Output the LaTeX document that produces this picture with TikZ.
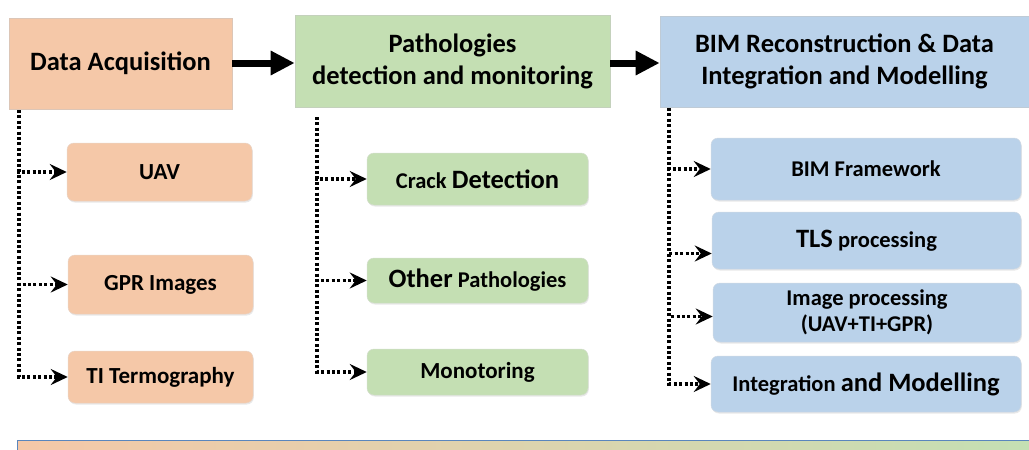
\documentclass[tikz,border=0pt]{standalone}
\usepackage{fontspec}
\setmainfont{Carlito}
\usetikzlibrary{arrows.meta,shadows}
\definecolor{peach}{HTML}{F5C8A8}
\definecolor{leaf}{HTML}{C4DFB3}
\definecolor{sky}{HTML}{BAD2EA}
\definecolor{barline}{HTML}{5A86BD}
\tikzset{
  hdr/.style={draw=#1!80!black!60, line width=0.6pt, fill=#1, align=center, inner sep=0pt,
    font=\bfseries\fontsize{26.5}{32}\selectfont},
  sub/.style={draw=#1!85!black!50, line width=0.5pt, fill=#1, rounded corners=7pt, align=center, inner sep=0pt,
    drop shadow={opacity=0.18, shadow xshift=0.8pt, shadow yshift=-1.5pt},
    font=\bfseries\fontsize{23}{26}\selectfont},
  dotbranch/.style={line width=3.6pt, dash pattern=on 3pt off 2.4pt,
    -{Stealth[length=17pt,width=16pt,inset=6pt]}},
  bigarrow/.style={line width=7pt, -{Triangle[length=24pt,width=23pt]}},
}
\newcommand{\Sm}{\fontsize{22.5}{26}\selectfont}
\newcommand{\Lg}{\fontsize{26.5}{30}\selectfont}
\begin{document}
\begin{tikzpicture}[x=1pt,y=-1pt]
\useasboundingbox (0,0) rectangle (1029,450);
% headers
\node[hdr=peach, minimum width=223pt, minimum height=91pt] (da) at (120.5,63.5) {Data Acquisition};
\node[hdr=leaf, minimum width=315pt, minimum height=92pt] (pd) at (452.5,61) {Pathologies\\detection and monitoring};
\node[hdr=sky, minimum width=369pt, minimum height=91pt] (bim) at (844.5,61.5) {BIM Reconstruction \& Data\\Integration and Modelling};
% big arrows
\draw[bigarrow] (da.east |- 0,63) -- (pd.west |- 0,63);
\draw[bigarrow] (pd.east |- 0,63) -- (bim.west |- 0,63);
% column 1
\node[sub=peach, minimum width=185pt, minimum height=58pt] (uav) at (159.5,172) {UAV};
\node[sub=peach, minimum width=185pt, minimum height=59pt] (gpr) at (160.5,284.5) {GPR Images};
\node[sub=peach, minimum width=185pt, minimum height=52pt] (ti) at (160.5,377) {TI Termography};
% column 2
\node[sub=leaf, minimum width=221pt, minimum height=52pt] (crack) at (477.5,179) {{\Sm Crack} {\Lg Detection}};
\node[sub=leaf, minimum width=221pt, minimum height=45pt] (other) at (477.5,280.5) {{\Lg Other} {\Sm Pathologies}};
\node[sub=leaf, minimum width=221pt, minimum height=46pt] (mono) at (477.5,372) {Monotoring};
% column 3
\node[sub=sky, minimum width=310pt, minimum height=62pt] (bimf) at (866,169) {\Sm BIM Framework};
\node[sub=sky, minimum width=309pt, minimum height=57pt] (tls) at (866.5,240.5) {{\Lg TLS} {\Sm processing}};
\node[sub=sky, minimum width=308pt, minimum height=59pt, font=\bfseries\fontsize{22.5}{26}\selectfont] (img) at (867,312.5) {Image processing\\(UAV+TI+GPR)};
\node[sub=sky, minimum width=310pt, minimum height=56pt] (integ) at (866,384) {{\Sm Integration} {\Lg and Modelling}};
% dotted branches
\coordinate (s1) at (19,110);
\coordinate (s2) at (317,117);
\coordinate (s3) at (669,108);
\draw[dotbranch] (s1) |- (uav.west);
\draw[dotbranch] (s1) |- (gpr.west);
\draw[dotbranch] (s1) |- (ti.west);
\draw[dotbranch] (s2) |- (crack.west);
\draw[dotbranch] (s2) |- (other.west);
\draw[dotbranch] (s2) |- (mono.west);
\draw[dotbranch] (s3) |- (bimf.west);
\draw[dotbranch] (s3) |- ([yshift=-13pt]tls.west);
\draw[dotbranch] (s3) |- ([yshift=-4pt]img.west);
\draw[dotbranch] (s3) |- (integ.west);
% bottom bar
\shade[left color=peach, middle color=sky, right color=leaf] (17,440) rectangle (1029,450);
\draw[barline, line width=0.8pt] (1029,440) -- (17,440) -- (17,450);
\end{tikzpicture}
\end{document}
